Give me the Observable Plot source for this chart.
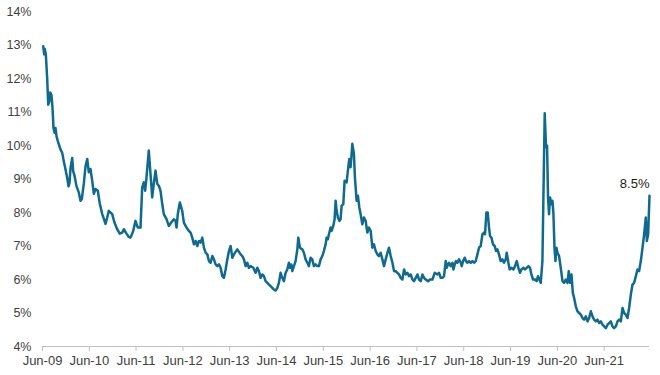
<!DOCTYPE html>
<html>
<head>
<meta charset="utf-8">
<script src="https://cdn.jsdelivr.net/npm/d3@7"></script>
<script src="https://cdn.jsdelivr.net/npm/@observablehq/plot@0.6"></script>
<style>
  html, body { margin: 0; padding: 0; background: #fff; }
  #chart { width: 660px; height: 375px; }
</style>
</head>
<body>
<div id="chart"></div>
<script>
const years = [
  2009.429, 2009.450, 2009.463, 2009.485, 2009.514, 2009.536, 2009.557, 2009.579, 2009.606, 2009.628,
  2009.649, 2009.671, 2009.692, 2009.713, 2009.741, 2009.771, 2009.799, 2009.835, 2009.869, 2009.906,
  2009.942, 2009.970, 2009.991, 2010.013, 2010.049, 2010.070, 2010.098, 2010.141, 2010.190, 2010.226,
  2010.254, 2010.297, 2010.333, 2010.370, 2010.404, 2010.440, 2010.476, 2010.511, 2010.547, 2010.596,
  2010.639, 2010.690, 2010.761, 2010.797, 2010.831, 2010.904, 2010.953, 2011.011, 2011.066, 2011.118,
  2011.152, 2011.210, 2011.259, 2011.295, 2011.353, 2011.402, 2011.451, 2011.509, 2011.545, 2011.580,
  2011.609, 2011.637, 2011.686, 2011.723, 2011.759, 2011.793, 2011.830, 2011.866, 2011.900, 2011.937,
  2011.973, 2012.007, 2012.065, 2012.114, 2012.165, 2012.221, 2012.257, 2012.279, 2012.306, 2012.349,
  2012.400, 2012.435, 2012.492, 2012.542, 2012.578, 2012.614, 2012.648, 2012.685, 2012.721, 2012.755,
  2012.792, 2012.828, 2012.862, 2012.899, 2012.935, 2012.969, 2013.005, 2013.042, 2013.076, 2013.112,
  2013.149, 2013.183, 2013.219, 2013.256, 2013.290, 2013.326, 2013.362, 2013.397, 2013.433, 2013.469,
  2013.503, 2013.576, 2013.647, 2013.683, 2013.717, 2013.754, 2013.790, 2013.824, 2013.860, 2013.918,
  2013.967, 2014.004, 2014.038, 2014.074, 2014.111, 2014.145, 2014.181, 2014.217, 2014.252, 2014.288,
  2014.324, 2014.359, 2014.395, 2014.431, 2014.465, 2014.502, 2014.538, 2014.572, 2014.609, 2014.645,
  2014.679, 2014.701, 2014.731, 2014.752, 2014.786, 2014.822, 2014.859, 2014.880, 2014.914, 2014.966,
  2015.000, 2015.036, 2015.073, 2015.107, 2015.143, 2015.179, 2015.214, 2015.250, 2015.286, 2015.321,
  2015.357, 2015.393, 2015.427, 2015.464, 2015.485, 2015.513, 2015.534, 2015.571, 2015.592, 2015.628,
  2015.656, 2015.678, 2015.699, 2015.727, 2015.757, 2015.784, 2015.806, 2015.842, 2015.870, 2015.913,
  2015.940, 2015.970, 2015.998, 2016.035, 2016.069, 2016.090, 2016.126, 2016.154, 2016.184, 2016.212,
  2016.248, 2016.282, 2016.319, 2016.355, 2016.389, 2016.426, 2016.462, 2016.496, 2016.533, 2016.569,
  2016.603, 2016.639, 2016.676, 2016.710, 2016.746, 2016.783, 2016.817, 2016.853, 2016.890, 2016.924,
  2016.960, 2016.996, 2017.031, 2017.067, 2017.103, 2017.138, 2017.174, 2017.210, 2017.244, 2017.281,
  2017.317, 2017.351, 2017.388, 2017.424, 2017.458, 2017.495, 2017.531, 2017.565, 2017.601, 2017.651,
  2017.693, 2017.745, 2017.794, 2017.852, 2017.886, 2017.922, 2017.958, 2017.993, 2018.029, 2018.050,
  2018.078, 2018.100, 2018.136, 2018.172, 2018.194, 2018.221, 2018.249, 2018.279, 2018.313, 2018.350,
  2018.371, 2018.399, 2018.435, 2018.463, 2018.493, 2018.527, 2018.563, 2018.600, 2018.634, 2018.670,
  2018.707, 2018.741, 2018.777, 2018.814, 2018.848, 2018.869, 2018.899, 2018.927, 2018.955, 2018.976,
  2019.006, 2019.040, 2019.076, 2019.104, 2019.134, 2019.168, 2019.205, 2019.241, 2019.275, 2019.312,
  2019.333, 2019.369, 2019.397, 2019.433, 2019.476, 2019.510, 2019.547, 2019.583, 2019.617, 2019.647,
  2019.690, 2019.724, 2019.761, 2019.797, 2019.831, 2019.861, 2019.895, 2019.938, 2019.974, 2020.002,
  2020.032, 2020.060, 2020.096, 2020.145, 2020.173, 2020.195, 2020.216, 2020.237, 2020.259, 2020.289,
  2020.310, 2020.331, 2020.353, 2020.374, 2020.395, 2020.417, 2020.451, 2020.487, 2020.524, 2020.558,
  2020.594, 2020.631, 2020.658, 2020.686, 2020.716, 2020.744, 2020.772, 2020.808, 2020.844, 2020.879,
  2020.915, 2020.951, 2020.985, 2021.022, 2021.058, 2021.092, 2021.129, 2021.165, 2021.199, 2021.236,
  2021.272, 2021.306, 2021.342, 2021.379, 2021.413, 2021.449, 2021.486, 2021.520, 2021.556, 2021.592,
  2021.627, 2021.663, 2021.699, 2021.734, 2021.770, 2021.806, 2021.840, 2021.877, 2021.913, 2021.947,
  2021.984, 2022.020, 2022.054, 2022.091, 2022.127, 2022.161, 2022.197, 2022.234, 2022.268, 2022.304,
  2022.326, 2022.354, 2022.383
];

// Yield, percent
const yields = [
  12.96, 12.72, 12.88, 12.72, 12.0, 11.22, 11.3, 11.58, 11.5, 11.12,
  10.52, 10.38, 10.52, 10.28, 10.13, 10.0, 9.88, 9.78, 9.53, 9.28,
  9.03, 8.78, 8.88, 9.33, 9.63, 9.23, 9.1, 8.78, 8.6, 8.35,
  8.4, 8.86, 9.37, 9.6, 9.2, 9.3, 8.95, 8.56, 8.7, 8.65,
  8.26, 7.96, 7.66, 7.85, 8.05, 7.95, 7.7, 7.5, 7.37, 7.4,
  7.5, 7.37, 7.27, 7.25, 7.45, 7.75, 7.55, 7.55, 8.75, 8.9,
  8.65, 9.05, 9.85, 9.15, 8.45, 8.86, 9.25, 8.86, 8.8, 8.65,
  8.26, 7.95, 7.8, 7.6, 7.7, 7.8, 7.75, 7.55, 7.96, 8.3,
  8.05, 7.7, 7.55, 7.45, 7.4, 7.25, 7.05, 7.15, 7.0, 7.15,
  7.1, 7.25, 6.95, 6.8, 6.75, 6.55, 6.5, 6.7, 6.6, 6.45,
  6.4, 6.45, 6.35, 6.1, 6.05, 6.3, 6.6, 6.85, 7.0, 6.65,
  6.75, 6.9, 6.75, 6.7, 6.6, 6.4, 6.5, 6.35, 6.4, 6.35,
  6.2, 6.35, 6.25, 6.05, 6.15, 6.1, 5.95, 5.9, 5.85, 5.8,
  5.75, 5.7, 5.67, 5.75, 5.9, 6.2, 6.05, 5.95, 6.2, 6.3,
  6.5, 6.35, 6.45, 6.25, 6.4, 6.55, 6.9, 7.25, 6.95, 6.9,
  6.8, 6.6, 6.5, 6.4, 6.65, 6.6, 6.4, 6.45, 6.4, 6.4,
  6.6, 6.7, 6.85, 7.05, 7.25, 7.2, 7.35, 7.55, 7.45, 7.6,
  7.8, 8.35, 8.05, 7.85, 7.75, 7.8, 8.2, 8.25, 8.95, 8.9,
  9.25, 9.6, 9.35, 10.05, 9.75, 9.05, 8.35, 8.5, 8.15, 7.95,
  7.65, 7.85, 7.75, 7.4, 7.55, 7.45, 6.95, 7.05, 6.85, 6.75,
  6.7, 6.8, 6.6, 6.4, 6.6, 6.8, 6.95, 6.7, 6.5, 6.25,
  6.25, 6.2, 6.15, 6.05, 6.0, 6.3, 6.15, 6.2, 6.1, 6.15,
  6.0, 5.95, 6.05, 6.15, 6.0, 5.95, 6.15, 6.05, 6.0, 5.95,
  6.0, 6.0, 6.2, 6.15, 6.2, 6.05, 6.05, 6.1, 6.55, 6.35,
  6.45, 6.5, 6.4, 6.5, 6.3, 6.45, 6.55, 6.5, 6.6, 6.5,
  6.4, 6.55, 6.65, 6.55, 6.5, 6.55, 6.5, 6.55, 6.5, 6.55,
  6.75, 6.95, 7.0, 7.35, 7.4, 7.35, 8.0, 8.0, 7.55, 7.3,
  7.25, 7.05, 7.0, 6.85, 6.9, 6.75, 6.55, 6.6, 6.5, 6.6,
  6.8, 6.5, 6.3, 6.35, 6.3, 6.4, 6.55, 6.35, 6.2, 6.3,
  6.35, 6.3, 6.35, 6.4, 6.35, 6.15, 6.0, 6.0, 5.95, 6.1,
  6.0, 5.9, 6.55, 10.96, 9.95, 10.0, 8.45, 7.95, 8.45, 8.25,
  8.35, 7.95, 6.95, 6.55, 6.95, 6.8, 6.7, 6.35, 5.95, 5.9,
  6.0, 5.9, 6.25, 5.9, 6.15, 5.6, 5.45, 5.2, 5.05, 5.0,
  4.95, 4.85, 4.8, 4.9, 4.75, 4.85, 5.05, 4.9, 4.8, 4.75,
  4.8, 4.7, 4.75, 4.65, 4.6, 4.55, 4.65, 4.7, 4.75, 4.6,
  4.55, 4.6, 4.75, 4.8, 4.75, 5.15, 5.0, 4.95, 4.85, 5.15,
  5.55, 5.85, 5.9, 6.1, 6.3, 6.25, 6.55, 6.95, 7.35, 7.85,
  7.15, 7.35, 8.5
];

const yTicks = [4, 5, 6, 7, 8, 9, 10, 11, 12, 13, 14];
const xTickYears = [2009, 2010, 2011, 2012, 2013, 2014, 2015, 2016, 2017, 2018, 2019, 2020, 2021];
const xStart = "2009-06-01";

function decimalYearToDate(y) {
  const yr = Math.floor(y);
  const a = Date.UTC(yr, 0, 1), b = Date.UTC(yr + 1, 0, 1);
  return new Date(a + (y - yr) * (b - a));
}

const data = years.map((y, i) => ({date: decimalYearToDate(y), value: yields[i]}));
const last = data[data.length - 1];
const xTicks = xTickYears.map(y => new Date(Date.UTC(y, 5, 1)));

const chart = Plot.plot({
  width: 660,
  height: 375,
  marginLeft: 42,
  marginRight: 11,
  marginTop: 11,
  marginBottom: 29,
  style: {fontFamily: "'Liberation Sans', Arial, sans-serif", fontSize: "12.5px", color: "#404040", background: "#fff"},
  x: {type: "utc", domain: [new Date(xStart), last.date]},
  y: {domain: [4, 14]},
  marks: [
    Plot.axisY({ticks: yTicks, tickFormat: d => d + "%", tickSize: 0, tickPadding: 11, label: null, fontSize: 12.5}),
    Plot.axisX({ticks: xTicks, tickFormat: d3.utcFormat("%b-%y"), tickSize: 5, tickPadding: 4, stroke: "#bfbfbf", fill: "#404040", label: null, fontSize: 13}),
    Plot.ruleY([4], {stroke: "#bfbfbf", strokeWidth: 1}),
    Plot.line(data, {x: "date", y: "value", stroke: "#0f6a8f", strokeWidth: 2.5, strokeLinejoin: "round"}),
    Plot.text([last], {x: "date", y: "value", text: d => d.value.toFixed(1) + "%", textAnchor: "end", dy: -12, dx: 0, fontSize: 13, fill: "#1a1a1a"})
  ]
});
document.getElementById("chart").appendChild(chart);
</script>
</body>
</html>
